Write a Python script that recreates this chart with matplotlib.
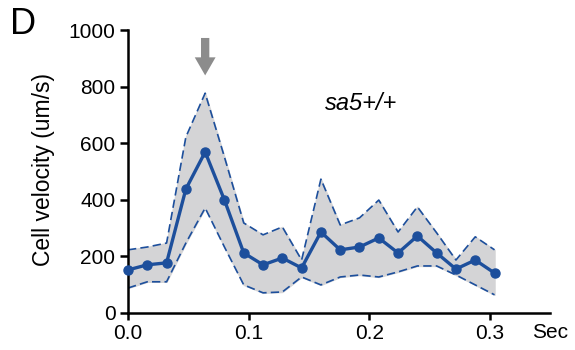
import matplotlib
matplotlib.use("Agg")
import matplotlib.pyplot as plt

plt.rcParams['font.family'] = ['Liberation Sans', 'DejaVu Sans']

# time points (s)
tempo = [i * 0.016 for i in range(20)]
media = [152, 170, 177, 438, 569, 399, 212, 170, 194, 159,
         286, 223, 233, 265, 212, 272, 212, 155, 187, 141]
superior = [223, 233, 247, 622, 777, 551, 318, 276, 304, 187,
            473, 311, 336, 399, 286, 375, 283, 187, 269, 223]
inferior = [88, 110, 110, 247, 371, 233, 99, 71, 74, 127,
            99, 127, 134, 127, 145, 166, 166, 134, 99, 64]

x_ticks = [0.0, 0.1, 0.2, 0.3]
x_labels = ['0.0', '0.1', '0.2', '0.3']
y_ticks = [0, 200, 400, 600, 800, 1000]

azul = '#1d4f9c'

fig = plt.figure(figsize=(5.75, 3.5), dpi=100, facecolor='white')
ax = fig.add_axes([0.2226, 0.106, 0.7339, 0.808])

ax.fill_between(tempo, inferior, superior, color='#d4d4d6', zorder=1)
ax.plot(tempo, superior, color=azul, linestyle=(0, (5, 2.5)), linewidth=1.2, zorder=2)
ax.plot(tempo, inferior, color=azul, linestyle=(0, (5, 2.5)), linewidth=1.2, zorder=2)
ax.plot(tempo, media, color=azul, linewidth=2.4, marker='o', markersize=6.5, zorder=3,
        clip_on=False)

ax.set_xlim(0, 0.35)
ax.set_ylim(0, 1000)
ax.set_xticks(x_ticks)
ax.set_xticklabels(x_labels)
ax.set_yticks(y_ticks)

for lado in ['top', 'right']:
    ax.spines[lado].set_visible(False)
for lado in ['left', 'bottom']:
    ax.spines[lado].set_linewidth(1.8)
ax.tick_params(axis='y', direction='out', length=6, width=1.8, labelsize=15, pad=3)
ax.tick_params(axis='x', direction='out', length=5, width=1.8, labelsize=15, pad=3)

fig.text(44 / 575, 1 - 169 / 350, 'Cell velocity (um/s)', fontsize=16.5,
         rotation=90, ha='center', va='center')

# arrow over the peak
ax.annotate('', xy=(tempo[4], 830), xytext=(tempo[4], 982),
            arrowprops=dict(arrowstyle='simple,head_width=1.5,head_length=1.3,tail_width=0.6',
                            color='#8c8c8c', lw=0), annotation_clip=False)

ax.text(0.193, 740, 'sa5+/+', fontsize=17, style='italic', ha='center', va='center')
fig.text(532 / 575, 1 - 332 / 350, 'Sec', fontsize=15, ha='left', va='center')
fig.text(10 / 575, 1 - 25 / 350, 'D', fontsize=26, ha='left', va='center')

plt.savefig('out.png', dpi=100)
